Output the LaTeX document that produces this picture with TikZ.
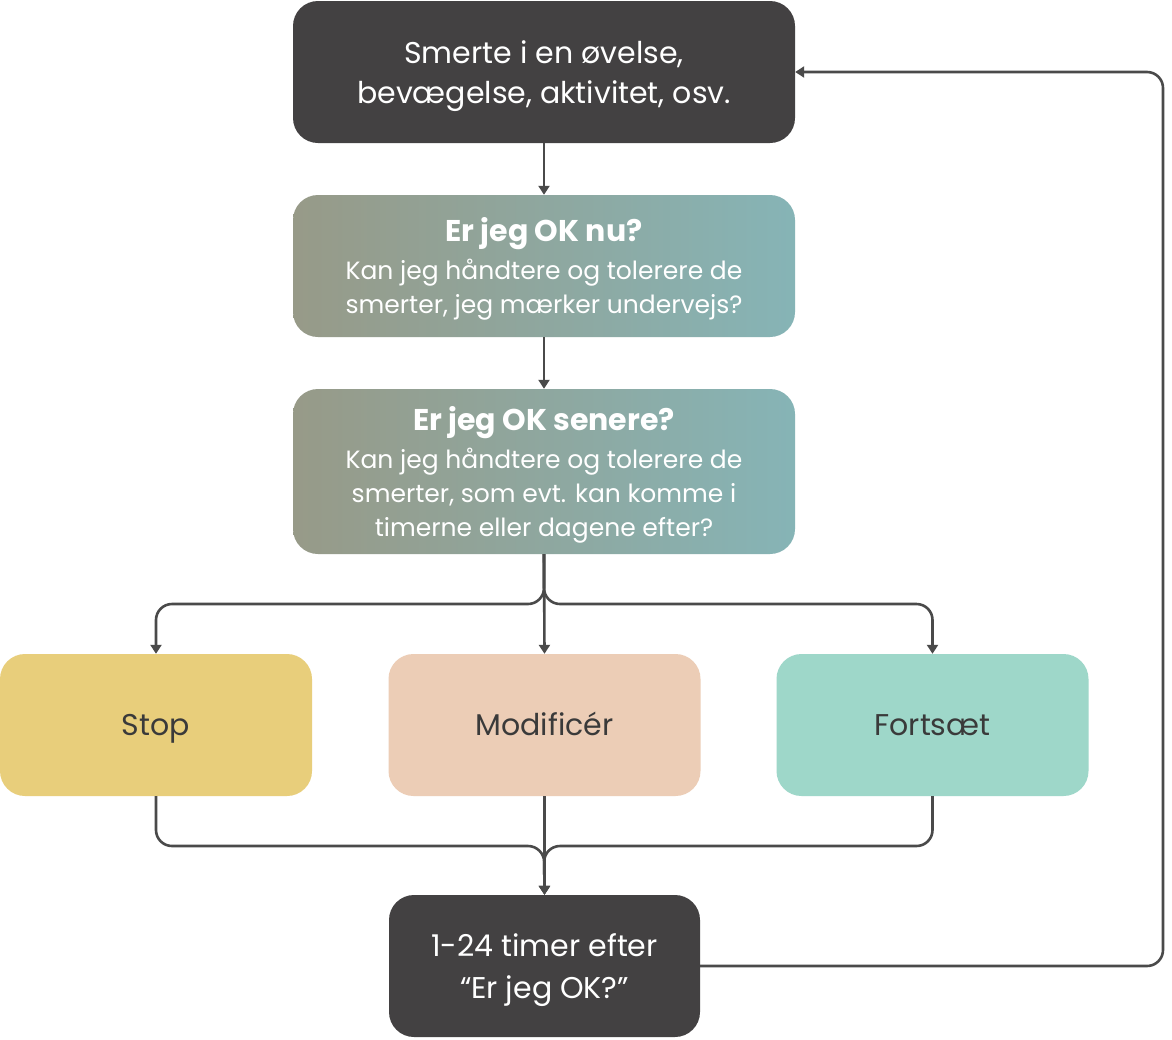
\documentclass[tikz,border=0pt]{standalone}
\usepackage{fontspec}
\setmainfont{Poppins}
\usetikzlibrary{arrows.meta}
\definecolor{dark}{HTML}{434142}
\definecolor{linec}{HTML}{4A4A4A}
\definecolor{gleft}{HTML}{979A88}
\definecolor{gright}{HTML}{86B4B6}
\definecolor{stopc}{HTML}{E8CE7B}
\definecolor{modc}{HTML}{ECCDB6}
\definecolor{fortc}{HTML}{9ED7C9}
\definecolor{txtd}{HTML}{3A3A3A}
\begin{document}
\begin{tikzpicture}[x=1pt,y=-1pt,
  box/.style={rounded corners=25pt, inner sep=0pt, draw=none},
  wide/.style={box, minimum width=502pt},
  small/.style={box, minimum width=312pt, minimum height=142pt},
  gbox/.style={wide, left color=gleft, right color=gright},
  darkbox/.style={box, fill=dark},
  txt/.style={anchor=base, align=center, inner sep=0pt},
  wtxt/.style={txt, text=white, font=\fontsize{30}{41}\selectfont},
  gtxt/.style={txt, text=white, font=\fontsize{25}{34}\selectfont},
  dtxt/.style={txt, text=txtd, font=\fontsize{30}{40}\selectfont},
  conn/.style={draw=linec, line width=2.6pt, rounded corners=16pt, -{Triangle[width=11pt,length=9pt]}}
]
\fill[white] (0,0) rectangle (1172,1039);
\useasboundingbox (0,0) rectangle (1172,1039);

\node[darkbox, minimum width=502pt, minimum height=142pt] (top) at (544,72) {};
\node[wtxt, font=\fontsize{30}{40}\selectfont] (toptxt) at (544,103.5) {Smerte i en øvelse,\\bevægelse, aktivitet, osv.};

\node[gbox, minimum height=142pt] (b2) at (544,266) {};
\node[gtxt] (b2txt) at (544,313.5) {{\fontsize{30}{34}\selectfont\bfseries Er jeg OK nu?}\\[4pt]Kan jeg håndtere og tolerere de\\smerter, jeg mærker undervejs?};

\node[gbox, minimum height=165pt] (b3) at (544,471.5) {};
\node[gtxt] (b3txt) at (544,536) {{\fontsize{30}{34}\selectfont\bfseries Er jeg OK senere?}\\[4pt]Kan jeg håndtere og tolerere de\\smerter, som evt. kan komme i\\timerne eller dagene efter?};

\node[small, fill=stopc] (stop) at (156,725) {};
\node[small, fill=modc] (mod) at (544.5,725) {};
\node[small, fill=fortc] (fort) at (932.5,725) {};
\node[dtxt] (stoptxt) at (156,735) {Stop};
\node[dtxt] (modtxt) at (544.5,735) {Modificér};
\node[dtxt] (forttxt) at (932.5,735) {Fortsæt};

\node[darkbox, minimum width=311pt, minimum height=142pt] (bot) at (544.5,966) {};
\node[wtxt, font=\fontsize{30}{42}\selectfont] (bottxt) at (544.5,998.5) {1-24 timer efter\\“Er jeg OK?”};

\coordinate (split) at (544,604);
\coordinate (merge) at (544,846);
\coordinate (loop) at (1163,72);

\draw[conn] (top.south) -- (b2.north);
\draw[conn] (b2.south) -- (b3.north);
\draw[conn] (b3.south) -- (split) -| (stop.north);
\draw[conn] (b3.south) -- (split) -| (fort.north);
\draw[conn] (b3.south) -- (mod.north);
\draw[conn] (stop.south) |- (merge) -- (bot.north);
\draw[conn] (fort.south) |- (merge) -- (bot.north);
\draw[conn] (mod.south) -- (bot.north);
\draw[conn] (bot.east) -| (loop) -- (top.east);
\end{tikzpicture}
\end{document}
